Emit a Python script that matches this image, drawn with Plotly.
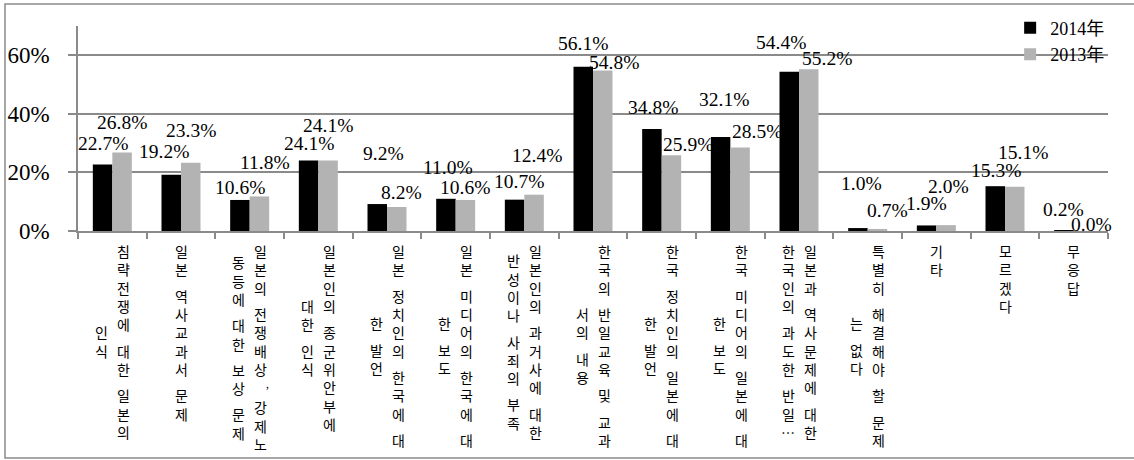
import plotly.graph_objects as go

# Survey categories: each entry is the list of wrapped label columns (read right to left)
category_columns = [
    ["침략전쟁에 대한 일본의", "인식"],
    ["일본 역사교과서 문제"],
    ["일본의 전쟁배상, 강제노", "동등에 대한 보상 문제"],
    ["일본인의 종군위안부에", "대한 인식"],
    ["일본 정치인의 한국에 대", "한 발언"],
    ["일본 미디어의 한국에 대", "한 보도"],
    ["일본인의 과거사에 대한", "반성이나 사죄의 부족"],
    ["한국의 반일교육 및 교과", "서의 내용"],
    ["한국 정치인의 일본에 대", "한 발언"],
    ["한국 미디어의 일본에 대", "한 보도"],
    ["일본과 역사문제에 대한", "한국인의 과도한 반일…"],
    ["특별히 해결해야 할 문제", "는 없다"],
    ["기타"],
    ["모르겠다"],
    ["무응답"],
]

series_names = ["2014年", "2013年"]
values_2014 = [22.7, 19.2, 10.6, 24.1, 9.2, 11.0, 10.7, 56.1, 34.8, 32.1, 54.4, 1.0, 1.9, 15.3, 0.2]
values_2013 = [26.8, 23.3, 11.8, 24.1, 8.2, 10.6, 12.4, 54.8, 25.9, 28.5, 55.2, 0.7, 2.0, 15.1, 0.0]

y_tick_values = [0, 20, 40, 60]
y_tick_labels = ["0%", "20%", "40%", "60%"]

# Hand-placed nudges (px) for the value labels, relative to each bar top
label_dx_2014 = [0, -7, 0, 0, 6, 2, 4, 0, 1, 3, -8, 4, 0, 1, 0]
label_dy_2014 = [21, 23, 12, 17, 51, 31, 18, 23, 22, 37, 29, 45, 22, 16, 21]
label_dx_2013 = [0, 0, 6, 0, 5, 0, 3, 11, 17, 17, 18, 10, 2, 8, 8]
label_dy_2013 = [30, 32, 34, 35, 14, 12, 39, 8, 11, 16, 11, 18, 39, 34, 7]

COLOR_2014 = "#000000"
COLOR_2013 = "#b3b3b3"
LINE_GRAY = "#8a8a8a"
SERIF = "Liberation Serif, Noto Sans CJK JP, serif"
KOREAN = "Noto Sans CJK KR, sans-serif"

FIG_W, FIG_H = 1134, 460
M_L, M_R, M_T, M_B = 78, 26, 26, 229
PLOT_W = FIG_W - M_L - M_R
PLOT_H = FIG_H - M_T - M_B

BARGAP = 0.432
BAR_OFFSET = (1 - BARGAP) / 4  # centre offset of each bar within its group

x_idx = list(range(len(category_columns)))

fig = go.Figure()
fig.add_trace(go.Bar(x=x_idx, y=values_2014, name=series_names[0],
                     marker=dict(color=COLOR_2014, line=dict(width=0))))
fig.add_trace(go.Bar(x=x_idx, y=values_2013, name=series_names[1],
                     marker=dict(color=COLOR_2013, line=dict(width=0))))

annotations = []

# Value labels above the bars
for i in x_idx:
    for vals, dxs, dys, sign in ((values_2014, label_dx_2014, label_dy_2014, -1),
                                 (values_2013, label_dx_2013, label_dy_2013, 1)):
        annotations.append(dict(
            x=i + sign * BAR_OFFSET, y=vals[i], xref="x", yref="y",
            text=f"{vals[i]:.1f}%", showarrow=False,
            xanchor="center", yanchor="middle",
            xshift=dxs[i], yshift=dys[i],
            font=dict(family=SERIF, size=19.5, color="#000000"),
        ))

# Stacked (vertical) category labels, one character per slot
CHAR_STEP = 18.3
SPACE_STEP = 8.0
COMMA_STEP = 12.0
COL_PITCH = 22
TOP_GAP = 11.0


def step_of(ch):
    if ch == " ":
        return SPACE_STEP
    if ch == ",":
        return COMMA_STEP
    return CHAR_STEP


def column_height(text):
    return sum(step_of(c) for c in text)


for i, cols in enumerate(category_columns):
    main_h = column_height(cols[0])
    n = len(cols)
    for j, col in enumerate(cols):
        top = TOP_GAP + (main_h - column_height(col)) / 2
        xshift = (n - 1) / 2 * COL_PITCH - j * COL_PITCH
        acc = 0.0
        for ch in col:
            h = step_of(ch)
            if ch != " ":
                is_comma = ch == ","
                annotations.append(dict(
                    x=i, y=0, xref="x", yref="paper",
                    text=ch, showarrow=False,
                    xanchor="center", yanchor="middle",
                    xshift=xshift + (7 if is_comma else 0),
                    yshift=-(top + acc + h / 2) + (1 if is_comma else 0),
                    font=dict(family=KOREAN, size=10 if is_comma else 14, color="#000000"),
                ))
            acc += h

# Outer frame of the chart
frame_left, frame_top, frame_bottom, frame_right = 5, 4, 458, 1140
shapes = [dict(
    type="rect", xref="paper", yref="paper",
    x0=(frame_left - M_L) / PLOT_W, x1=(frame_right - M_L) / PLOT_W,
    y0=(FIG_H - M_B - frame_bottom) / PLOT_H, y1=(FIG_H - M_B - frame_top) / PLOT_H,
    line=dict(color=LINE_GRAY, width=1.5), fillcolor="rgba(0,0,0,0)", layer="below",
)]

fig.update_layout(
    width=FIG_W, height=FIG_H,
    margin=dict(l=M_L, r=M_R, t=M_T, b=M_B, pad=0, autoexpand=False),
    paper_bgcolor="#ffffff", plot_bgcolor="#ffffff",
    barmode="group", bargap=BARGAP, bargroupgap=0,
    font=dict(family=SERIF, size=19, color="#000000"),
    showlegend=True,
    legend=dict(x=0.905, y=1.08, xanchor="left", yanchor="top",
                bgcolor="rgba(0,0,0,0)", font=dict(family=SERIF, size=18),
                tracegroupgap=0, itemsizing="constant"),
    annotations=annotations,
    shapes=shapes,
)

fig.update_xaxes(
    range=[-0.5, len(category_columns) - 0.5],
    tickmode="array", tickvals=[k - 0.5 for k in range(len(category_columns) + 1)],
    showticklabels=False, ticks="outside", ticklen=6, tickwidth=1.5, tickcolor=LINE_GRAY,
    showline=True, linecolor=LINE_GRAY, linewidth=1.5,
    showgrid=False, zeroline=False, fixedrange=True,
)
fig.update_yaxes(
    range=[0, 70],
    tickmode="array", tickvals=y_tick_values, ticktext=y_tick_labels,
    tickfont=dict(family=SERIF, size=23, color="#000000"),
    ticks="outside", ticklen=8, tickwidth=1.5, tickcolor=LINE_GRAY,
    ticklabelstandoff=14,
    showline=True, linecolor=LINE_GRAY, linewidth=1.5,
    showgrid=True, gridcolor=LINE_GRAY, gridwidth=1.5,
    zeroline=False, fixedrange=True,
)

fig.write_html("out.html")
